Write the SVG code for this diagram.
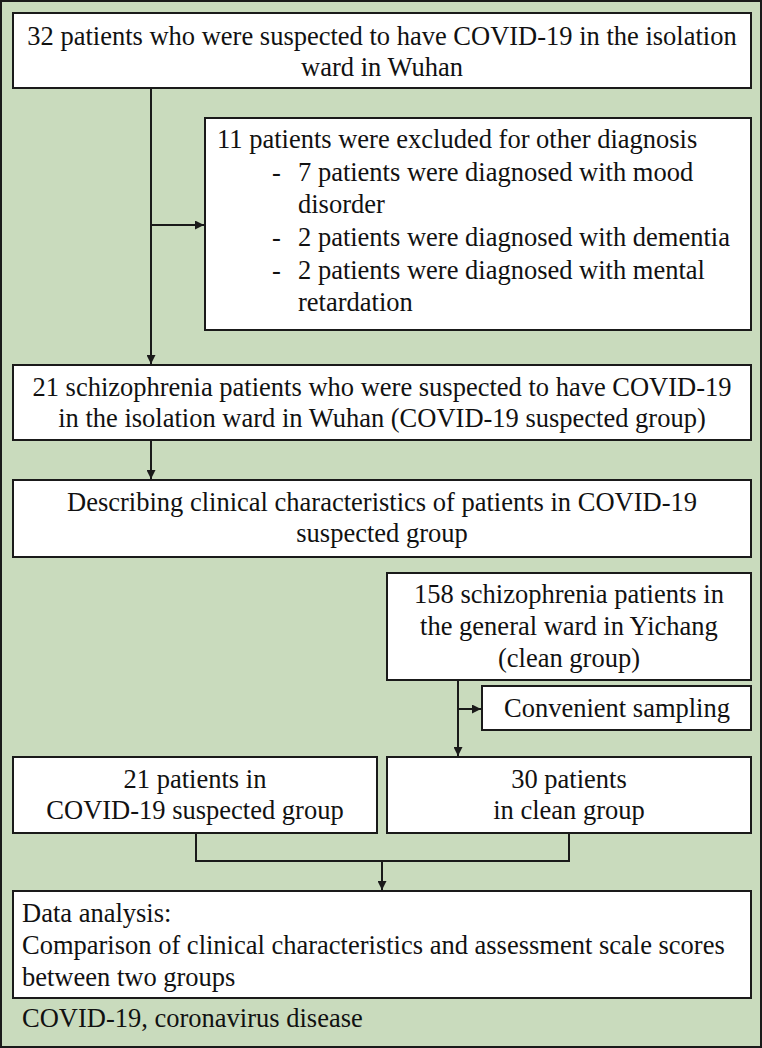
<svg xmlns="http://www.w3.org/2000/svg" width="762" height="1048" viewBox="0 0 762 1048">
<style>
.box{fill:#ffffff;stroke:#1a1a1a;stroke-width:2}
.t{font-size:26.5px;fill:#111111}
.c{text-anchor:middle}
.ln{fill:none;stroke:#1a1a1a;stroke-width:2}
.f{font-family:'Liberation Serif'}
</style>
<defs>
<marker id="ah" viewBox="0 0 10 10" refX="10" refY="5" markerWidth="10" markerHeight="9" markerUnits="userSpaceOnUse" orient="auto">
<path d="M0,0 L10,5 L0,10 z" fill="#1a1a1a"/>
</marker>
</defs>
<rect x="1" y="1" width="760" height="1046" fill="#c9dbbd" stroke="#1a1a1a" stroke-width="2"/>
<g id="connectors">
<path class="ln" d="M151,88 V364" marker-end="url(#ah)"/>
<path class="ln" d="M151,225 H204" marker-end="url(#ah)"/>
<path class="ln" d="M151,440 V479" marker-end="url(#ah)"/>
<path class="ln" d="M458,680 V756" marker-end="url(#ah)"/>
<path class="ln" d="M458,709 H481" marker-end="url(#ah)"/>
<path class="ln" d="M196,833 V861 H569 V833"/>
<path class="ln" d="M382,861 V890" marker-end="url(#ah)"/>
</g>
<g id="n1">
<rect class="box" x="13" y="13" width="738" height="75"/>
<text class="t c f" x="382" y="45">32 patients who were suspected to have COVID-19 in the isolation</text>
<text class="t c f" x="382" y="76">ward in Wuhan</text>
</g>
<g id="n2">
<rect class="box" x="205" y="118" width="546" height="212"/>
<text class="t f" x="217" y="148">11 patients were excluded for other diagnosis</text>
<text class="t f" x="272" y="181">-</text>
<text class="t f" x="298" y="181">7 patients were diagnosed with mood</text>
<text class="t f" x="298" y="213">disorder</text>
<text class="t f" x="272" y="246">-</text>
<text class="t f" x="298" y="246">2 patients were diagnosed with dementia</text>
<text class="t f" x="272" y="279">-</text>
<text class="t f" x="298" y="279">2 patients were diagnosed with mental</text>
<text class="t f" x="298" y="311">retardation</text>
</g>
<g id="n3">
<rect class="box" x="13" y="365" width="738" height="75"/>
<text class="t c f" x="382" y="396">21 schizophrenia patients who were suspected to have COVID-19</text>
<text class="t c f" x="382" y="427">in the isolation ward in Wuhan (COVID-19 suspected group)</text>
</g>
<g id="n4">
<rect class="box" x="13" y="480" width="738" height="77"/>
<text class="t c f" x="382" y="511">Describing clinical characteristics of patients in COVID-19</text>
<text class="t c f" x="382" y="542">suspected group</text>
</g>
<g id="n5">
<rect class="box" x="387" y="573" width="364" height="107"/>
<text class="t c f" x="569" y="603">158 schizophrenia patients in</text>
<text class="t c f" x="569" y="635">the general ward in Yichang</text>
<text class="t c f" x="569" y="667">(clean group)</text>
</g>
<g id="n6">
<rect class="box" x="482" y="686" width="269" height="44"/>
<text class="t c f" x="617" y="717">Convenient sampling</text>
</g>
<g id="n7">
<rect class="box" x="13" y="757" width="364" height="76"/>
<text class="t c f" x="195" y="788">21 patients in</text>
<text class="t c f" x="195" y="819">COVID-19 suspected group</text>
</g>
<g id="n8">
<rect class="box" x="387" y="757" width="364" height="76"/>
<text class="t c f" x="569" y="788">30 patients</text>
<text class="t c f" x="569" y="819">in clean group</text>
</g>
<g id="n9">
<rect class="box" x="13" y="891" width="738" height="107"/>
<text class="t f" x="22" y="922">Data analysis:</text>
<text class="t f" x="22" y="954">Comparison of clinical characteristics and assessment scale scores</text>
<text class="t f" x="22" y="986">between two groups</text>
</g>
<text class="t f" x="22" y="1027">COVID-19, coronavirus disease</text>
</svg>
